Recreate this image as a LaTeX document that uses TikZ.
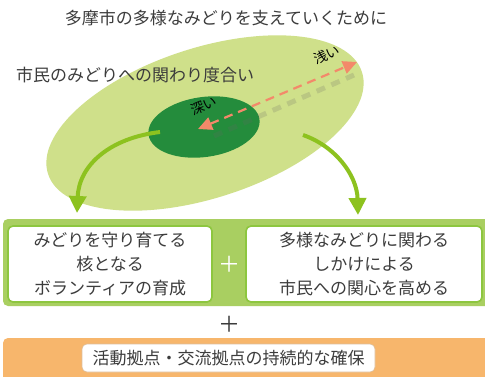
\documentclass[tikz,border=0pt]{standalone}
\usepackage{fontspec}
\newfontfamily\jp{Noto Sans CJK JP}
\usetikzlibrary{shapes.geometric,arrows.meta}
\definecolor{lightg}{HTML}{CFE08A}
\definecolor{darkg}{HTML}{248C3C}
\definecolor{arrg}{HTML}{8DC21F}
\definecolor{bandg}{HTML}{A9CF61}
\definecolor{boxg}{HTML}{8DC63F}
\definecolor{bando}{HTML}{F7B66C}
\definecolor{salmon}{HTML}{F3896A}
\definecolor{txt}{HTML}{3C3C3C}
\tikzset{
  jtext/.style={font=\jp\fontsize{17}{24}\selectfont, text=txt, inner sep=0pt},
  wbox/.style={draw=boxg, line width=1.6pt, fill=white, rounded corners=5pt, jtext, align=center},
  garrow/.style={draw=arrg, line width=4pt, -{Triangle[width=17pt,length=17pt]}},
  plusmark/.style={font=\jp\fontsize{22}{22}\selectfont, inner sep=0pt},
  depthlabel/.style={jtext, rotate=22, font=\jp\fontsize{13.5}{14}\selectfont, text=black},
}
\begin{document}
\begin{tikzpicture}[x=1pt,y=-1pt]
\useasboundingbox (0,0) rectangle (485,376);
\fill[white] (0,0) rectangle (485,376);
% ellipses
\node[ellipse, fill=lightg, minimum width=330pt, minimum height=150pt, inner sep=0pt, rotate=18] (big) at (205,123) {};
\node[ellipse, fill=darkg, minimum width=112pt, minimum height=60pt, inner sep=0pt, rotate=8] (core) at (204,127) {};
% titles
\node[jtext] (title) at (226,18) {多摩市の多様なみどりを支えていくために};
\node[jtext, anchor=west] (deg) at (16,75) {市民のみどりへの関わり度合い};
% dashed arrow with shadow
\coordinate (deep) at (198,129);
\coordinate (shallow) at (357,62);
\coordinate (sdeep) at (214,136);
\coordinate (sshallow) at (354,75);
\draw[black!60, opacity=0.2, line width=5pt, dash pattern=on 9pt off 7pt] (sdeep) -- (sshallow);
\draw[salmon, line width=2.2pt, dash pattern=on 9pt off 6pt, {Triangle[width=13pt,length=14pt]}-{Triangle[width=13pt,length=14pt]}] (deep) -- (shallow);
\node[depthlabel] (asai) at (327,55) {浅い};
\node[depthlabel] (fukai) at (204,106) {深い};
% green band
\fill[bandg, rounded corners=5pt] (3,219) rectangle (495,306);
\node[wbox, minimum width=204pt, minimum height=76pt] (left) at (110,264) {みどりを守り育てる\\核となる\\ボランティアの育成};
\node[wbox, minimum width=236pt, minimum height=76pt] (right) at (364,264) {多様なみどりに関わる\\しかけによる\\市民への関心を高める};
\node[plusmark, text=white] (plus1) at (229,264) {＋};
% green arrows
\coordinate (ls) at (160,132);
\coordinate (rs) at (303,135);
\coordinate (le) at (77,213);
\coordinate (re) at (358,215);
\draw[garrow] (ls) .. controls (110,138) and (79,165) .. (le);
\draw[garrow] (rs) .. controls (335,146) and (357,175) .. (re);
\node[plusmark, text=txt] (plus2) at (229,324) {＋};
% orange band
\fill[bando, rounded corners=5pt] (3,338) rectangle (495,385);
\node[draw=bando!80!black!60, line width=0.6pt, fill=white, rounded corners=5pt, jtext, minimum width=293pt, minimum height=28pt] (base) at (228.5,358) {活動拠点・交流拠点の持続的な確保};
\end{tikzpicture}
\end{document}
